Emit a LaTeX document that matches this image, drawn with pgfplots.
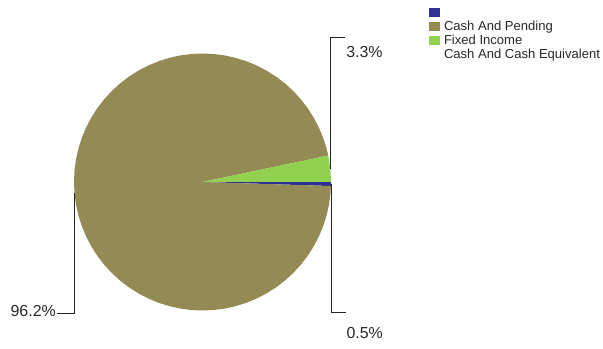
\documentclass[border=0pt]{standalone}
\usepackage{pgfplots}
\pgfplotsset{compat=1.18}
\usepackage{fontspec}
\setmainfont{Liberation Sans}
\definecolor{cblue}{RGB}{46,49,146}
\definecolor{colive}{RGB}{148,138,84}
\definecolor{cgreen}{RGB}{146,208,80}
\definecolor{ctext}{RGB}{40,40,40}
\begin{document}
\begin{tikzpicture}
\path[use as bounding box] (0,0) rectangle (603bp,349bp);
\begin{axis}[
  at={(0,0)}, anchor=south west,
  scale only axis, width=603bp, height=349bp,
  xmin=-202.5, xmax=400.5, ymin=-167, ymax=182,
  hide axis, clip=false,
  legend style={at={(axis cs:226.5,176)}, anchor=north west, draw=none, fill=none,
    inner sep=0pt, outer sep=0pt, row sep=0pt, column sep=3bp,
    font=\fontsize{13.1}{15}\selectfont\color{ctext},
    nodes={inner sep=1bp, text height=9.4bp, text depth=2.5bp}},
  legend cell align=left,
  legend image code/.code={\fill[#1] (0bp,-4.5bp) rectangle (11bp,5bp);},
]
% slices: Cash And Pending 0.5%, Fixed Income 96.2%, Cash And Cash Equivalent 3.3%
\addplot[fill=cblue, draw=none, data cs=polar] coordinates {(0,0) (-1.8,128.5) (-1,128.5) (0,128.5) (0,0)};
\addplot[fill=colive, draw=none, data cs=polar] coordinates {(0,0) (11.88,128.5) (15,128.5) (20,128.5) (25,128.5) (30,128.5) (35,128.5) (40,128.5) (45,128.5) (50,128.5) (55,128.5) (60,128.5) (65,128.5) (70,128.5) (75,128.5) (80,128.5) (85,128.5) (90,128.5) (95,128.5) (100,128.5) (105,128.5) (110,128.5) (115,128.5) (120,128.5) (125,128.5) (130,128.5) (135,128.5) (140,128.5) (145,128.5) (150,128.5) (155,128.5) (160,128.5) (165,128.5) (170,128.5) (175,128.5) (180,128.5) (185,128.5) (190,128.5) (195,128.5) (200,128.5) (205,128.5) (210,128.5) (215,128.5) (220,128.5) (225,128.5) (230,128.5) (235,128.5) (240,128.5) (245,128.5) (250,128.5) (255,128.5) (260,128.5) (265,128.5) (270,128.5) (275,128.5) (280,128.5) (285,128.5) (290,128.5) (295,128.5) (300,128.5) (305,128.5) (310,128.5) (315,128.5) (320,128.5) (325,128.5) (330,128.5) (335,128.5) (340,128.5) (345,128.5) (350,128.5) (355,128.5) (358.2,128.5) (0,0)};
\addplot[fill=cgreen, draw=none, data cs=polar] coordinates {(0,0) (0,128.5) (5,128.5) (10,128.5) (11.88,128.5) (0,0)};
\addlegendentry{}
\addlegendentry{Cash And Pending}
\addlegendentry{Fixed Income}
\addlegendimage{draw=none, fill=white}
\addlegendentry{Cash And Cash Equivalent}
% leader lines
\addplot[forget plot, draw=black!85, line width=0.8bp] coordinates {(127.8,13.3) (127.8,144.5) (142.5,144.5)};
\addplot[forget plot, draw=black!85, line width=0.8bp] coordinates {(128.4,-2) (128.4,-130) (143.5,-130)};
\addplot[forget plot, draw=black!85, line width=0.8bp] coordinates {(-128,-11.3) (-128,-131.3) (-145.5,-131.3)};
\node[font=\fontsize{16}{19}\selectfont, text=ctext, inner sep=0pt] at (axis cs:162,129.5) {3.3\%};
\node[font=\fontsize{16}{19}\selectfont, text=ctext, inner sep=0pt] at (axis cs:162.2,-151) {0.5\%};
\node[font=\fontsize{16}{19}\selectfont, text=ctext, inner sep=0pt, anchor=east] at (axis cs:-146.5,-129.5) {96.2\%};
\end{axis}
\end{tikzpicture}
\end{document}
